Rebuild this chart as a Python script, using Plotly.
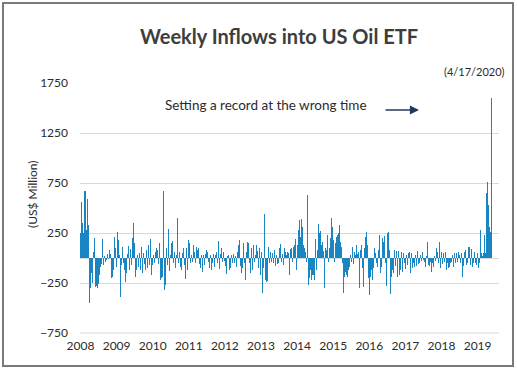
import plotly.graph_objects as go

# Weekly inflows (US$ Million), read left-to-right from the reference, 2008 -> 4/17/2020
inflows_2008_09 = [250, 560, 350, 250, 670, 670, 280, 590, 330, -450, -300, -150, -250, 60, 200, -290,
                   -280, -300, -260, -170, -90, -60, 190, -70, 15, -40, -20, 40, -10, 80, 40, -200,
                   -190, -120, 210, 100, -90, 260, 180, 30, -390, -70, 110, -50, -120, -240, -150, 40,
                   120, -120, 95, -70, 200, 350, 150, -190, -120, 30, -90, 55, -120, 110, -150, 50,
                   -55, -120, 80, -95]
inflows_2010_11 = [130, -70, 186, -170, -70, 35, -50, 60, 97, 85, -55, 147, -220, -200, -190, 673,
                   -320, -270, 97, -70, 290, -130, 30, 150, 170, -50, 60, -100, 30, 397, -50, 60,
                   -90, -120, 50, 97, -70, -210, 97, -120, 180, 150, -50, 30, -40, 130, 60, -50,
                   113, 80, 100, -60, -100, 30, -140, 30, -70, 40, 80, 60, -40, -100, 30, -120,
                   -50, 45, -90, 30, 60, -50]
inflows_2012_13 = [173, -113, 40, 97, -40, 60, -30, -80, -163, 20, 30, -120, -100, 30, -50, 40,
                   -50, 20, -90, 60, 130, 180, -80, -153, -100, 147, -50, -220, 60, 163, 153, -50,
                   -153, 97, -120, 130, -40, 30, 130, 70, -100, 97, -170, 60, -353, -100, 440, -220,
                   -236, -230, 110, -50, 63, -40, 50, -50, 80, -80, 30, -60, -50, 97, 137, -40,
                   40, -70, 97, 60, 30, 60]
inflows_2014_15 = [47, -170, 87, 97, -40, 113, 130, 186, -120, 130, 280, 380, 213, 387, 313, 130,
                   97, 63, -37, 630, -270, -203, -120, -220, -170, -170, -220, 186, -120, 80, 340, 246,
                   273, 130, 163, 73, -303, 97, 80, 230, -37, 97, 197, 397, 313, 180, -37, 147,
                   213, 230, 246, 330, 163, 113, -50, -353, -187, -137, -170, -187, -120, -87, 30, -37,
                   113, -60, 63, 30, 130, 40]
inflows_2016_17 = [63, -303, 80, 130, -103, -287, 97, 213, 263, 130, -203, -370, -187, -120, -220, -100,
                   97, 47, -53, -87, 80, 230, -147, -87, 197, 163, 220, -53, -280, 246, 263, 80,
                   -360, -187, -120, -153, 80, -80, 73, -187, 73, -170, -120, 63, -137, 53, -53, -113,
                   30, -70, 47, 63, -147, 47, -103, -53, -93, 30, -80, 73, -60, -47, 30, -30,
                   63, -20, -37, -87, 20, 163]
inflows_2018_20 = [-70, -80, -37, -137, -50, -87, 13, -27, 97, 63, -50, 163, -103, 63, -60, 47,
                   -37, 63, -120, -53, -103, -87, -53, -37, 30, -87, 47, -53, 53, -37, 63, 30,
                   -47, 53, -187, -80, 63, 80, -70, -53, 113, 107, -70, 87, -87, -47, 63, -53,
                   -70, 47, -103, -47, 280, 47, 13, 53, 230, 47, 647, 763, 530, 313, 260, 1597]

inflows = (inflows_2008_09 + inflows_2010_11 + inflows_2012_13 +
           inflows_2014_15 + inflows_2016_17 + inflows_2018_20)
weeks = list(range(len(inflows)))

year_labels = ["2008", "2009", "2010", "2011", "2012", "2013",
               "2014", "2015", "2016", "2017", "2018", "2019"]
label_step = 36.1  # weeks between year labels on the category axis
year_ticks = [i * label_step for i in range(len(year_labels))]

y_ticks = [-750, -250, 250, 750, 1250, 1750]

W, H = 517, 370
ML, MR, MT, MB = 80, 18, 83, 37
PW, PH = W - ML - MR, H - MT - MB

def px(x):
    return (x - ML) / PW

def py(y):
    return (H - MB - y) / PH

font_family = "Lato, 'Open Sans', sans-serif"

fig = go.Figure(go.Bar(
    x=weeks, y=inflows,
    marker=dict(color="#1985c2", line=dict(width=0)),
    width=1.0,
))

fig.update_layout(
    width=W, height=H,
    margin=dict(l=ML, r=MR, t=MT, b=MB),
    paper_bgcolor="white", plot_bgcolor="white",
    bargap=0,
    showlegend=False,
    font=dict(family=font_family, size=12, color="#2b2b2b"),
    title=dict(text="<b>Weekly Inflows into US Oil ETF</b>", x=279 / W, xanchor="center",
               y=1 - 37 / H, yanchor="middle",
               font=dict(family=font_family, size=20, color="#3d3d3d")),
    xaxis=dict(range=[-0.5, PW - 0.5], tickmode="array", tickvals=year_ticks,
               ticktext=year_labels, showgrid=False, zeroline=False, showline=False,
               ticks="", ticklabelstandoff=4, tickfont=dict(size=12)),
    yaxis=dict(range=[-750, 1750], tickmode="array", tickvals=y_ticks,
               showgrid=True, gridcolor="#d9d9d9", gridwidth=1,
               zeroline=True, zerolinecolor="#d9d9d9", zerolinewidth=1,
               showline=False, ticks="", ticklabelstandoff=11, tickfont=dict(size=12)),
    shapes=[
        dict(type="line", xref="paper", yref="paper", x0=0, x1=1, y0=0, y1=0,
             line=dict(color="#d9d9d9", width=1), layer="below"),
        dict(type="rect", xref="paper", yref="paper",
             x0=px(3), x1=px(513), y0=py(366), y1=py(3),
             line=dict(color="#7a7a7a", width=2), fillcolor="rgba(0,0,0,0)"),
    ],
    annotations=[
        dict(text="(4/17/2020)", xref="paper", yref="paper", x=px(474), y=py(72),
             xanchor="center", yanchor="middle", showarrow=False,
             font=dict(size=11, color="#2b2b2b")),
        dict(text="Setting a record at the wrong time", xref="paper", yref="paper",
             x=px(266), y=py(105), xanchor="center", yanchor="middle", showarrow=False,
             font=dict(size=13.5, color="#2b2b2b")),
        dict(text="", xref="paper", yref="paper", x=px(419), y=py(110),
             ax=-35, ay=0, showarrow=True, arrowhead=2, arrowsize=1.3, arrowwidth=1.4,
             arrowcolor="#1f3b5c"),
        dict(text="(US$ Million)", xref="paper", yref="paper", x=px(32), y=py(194),
             xanchor="center", yanchor="middle", textangle=-90, showarrow=False,
             font=dict(size=12, color="#2b2b2b")),
    ],
)

fig.write_html(
    "out.html",
    config={"displayModeBar": False},
    post_script="document.body.style.margin='0';document.body.style.padding='0';"
                "document.body.style.overflow='hidden';",
)
